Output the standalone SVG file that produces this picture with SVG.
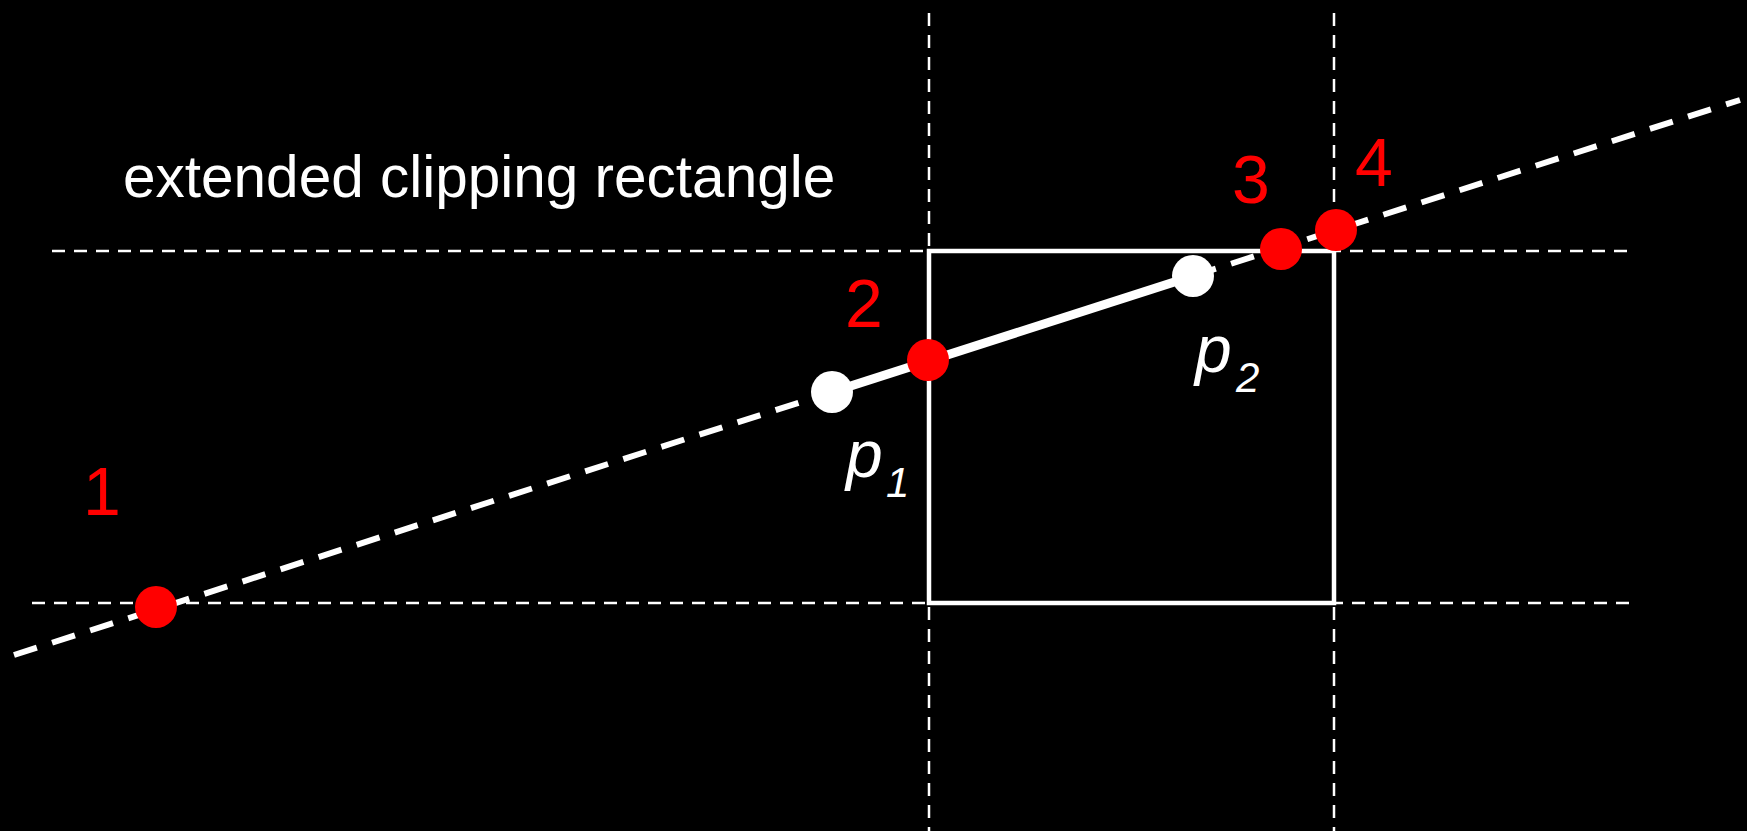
<svg xmlns="http://www.w3.org/2000/svg" width="1747" height="831" viewBox="0 0 1747 831">
<style>
.guide{stroke:#fff;stroke-width:2.5;stroke-dasharray:13 9;fill:none}
.ext{stroke:#fff;stroke-width:6;stroke-dasharray:24 16;fill:none}
.seg{stroke:#fff;stroke-width:9;fill:none}
.rect{stroke:#fff;stroke-width:4.5;fill:none}
.red{fill:#ff0000}
.wht{fill:#fff}
.num{font-family:"Liberation Sans",Arial,sans-serif;font-size:68px;fill:#ff0000;text-anchor:middle}
.lab{font-family:"Liberation Sans",Arial,sans-serif;fill:#fff;font-style:italic}
</style>
<rect width="1747" height="831" fill="#000"/>
<g id="guides">
<line class="guide" x1="929" y1="13" x2="929" y2="831"/>
<line class="guide" x1="1334" y1="13" x2="1334" y2="831"/>
<line class="guide" x1="52" y1="251" x2="1635" y2="251"/>
<line class="guide" x1="32" y1="603" x2="1635" y2="603"/>
</g>
<g id="clip-rect">
<rect class="rect" x="929" y="251" width="405" height="352"/>
</g>
<text id="title" x="123" y="197" font-family="'Liberation Sans',Arial,sans-serif" font-size="58.5" fill="#fff">extended clipping rectangle</text>
<g id="connectors">
<line class="ext" x1="14" y1="655" x2="832" y2="392"/>
<line class="ext" x1="1193" y1="276" x2="1740" y2="100"/>
<line class="seg" x1="832" y1="392" x2="1193" y2="276"/>
</g>
<g id="pt1"><circle class="red" cx="156" cy="607" r="21"/><text class="num" x="102" y="515">1</text></g>
<g id="pt2"><circle class="red" cx="928" cy="360" r="21"/><text class="num" x="864" y="327">2</text></g>
<g id="pt3"><circle class="red" cx="1281" cy="249" r="21"/><text class="num" x="1251" y="203">3</text></g>
<g id="pt4"><circle class="red" cx="1336" cy="230" r="21"/><text class="num" x="1374" y="186">4</text></g>
<g id="p1"><circle class="wht" cx="832" cy="392" r="21"/><text class="lab" x="846" y="477" font-size="66">p</text><text class="lab" x="886" y="497" font-size="42">1</text></g>
<g id="p2"><circle class="wht" cx="1193" cy="276" r="21"/><text class="lab" x="1195" y="372" font-size="66">p</text><text class="lab" x="1236" y="392" font-size="42">2</text></g>
</svg>
